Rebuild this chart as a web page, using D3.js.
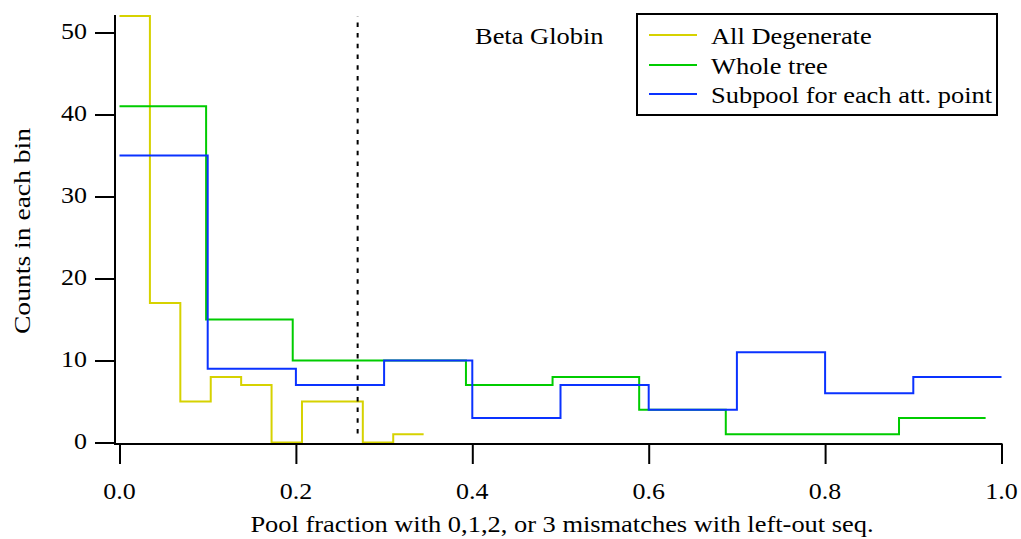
<!DOCTYPE html>
<html>
<head>
<meta charset="utf-8">
<script src="https://cdn.jsdelivr.net/npm/d3@7"></script>
<style>
  html, body { margin: 0; padding: 0; background: #fff; }
  svg { display: block; }
  text { font-family: "Liberation Serif", "Times New Roman", serif; fill: #000; }
</style>
</head>
<body>
<svg id="chart" width="1021" height="539"></svg>
<script>
// Histogram series: bin counts, each series with its own bin width starting at 0
const seriesNames = ["All Degenerate", "Whole tree", "Subpool for each att. point"];
const seriesColors = ["#d6d200", "#00cc00", "#0a32ff"];
const allDegenerate = [52, 17, 5, 8, 7, 0, 5, 5, 0, 1];
const wholeTree = [41, 15, 10, 10, 7, 8, 4, 1, 1, 3];
const subpool = [35, 9, 7, 10, 3, 7, 4, 11, 6, 8];
const binWidths = [1 / 29, 0.0982, 0.1];

const xTicks = [0, 0.2, 0.4, 0.6, 0.8, 1.0];
const yTicks = [0, 10, 20, 30, 40, 50];
const xDomain = [0, 1];
const yDomain = [0, 52];

// Vertical reference marker
const markerX = 0.27;
const markerYRange = [1.1, 52];

const title = "Beta Globin";
const xLabel = "Pool fraction with 0,1,2, or 3 mismatches with left-out seq.";
const yLabel = "Counts in each bin";

const svg = d3.select("#chart");
const FS = 23;       // font size
const SX = 1.13;     // horizontal text stretch

const x = d3.scaleLinear().domain(xDomain).range([119.5, 1001.5]);
const y = d3.scaleLinear().domain(yDomain).range([442.5, 16.1]);

const axisX = 115;   // position of the vertical axis line
const axisY = 444;   // position of the horizontal axis line

// helper: text with horizontal stretch
function stretchedText(g, tx, ty, str, anchor, rotate, sx) {
  return g.append("text")
    .attr("transform", `translate(${tx},${ty})` + (rotate ? ` rotate(${rotate})` : "") + ` scale(${sx || SX},1)`)
    .attr("font-size", FS)
    .attr("text-anchor", anchor || "start")
    .attr("dominant-baseline", "central")
    .text(str);
}

// Step curves
const series = [allDegenerate, wholeTree, subpool];
const stepLine = d3.line()
  .x(d => x(d[0]))
  .y(d => y(d[1]))
  .curve(d3.curveStepAfter);

series.forEach((vals, si) => {
  const w = binWidths[si];
  const pts = vals.map((v, i) => [i * w, v]);
  pts.push([vals.length * w, vals[vals.length - 1]]);
  svg.append("path")
    .attr("d", stepLine(pts))
    .attr("fill", "none")
    .attr("stroke", seriesColors[si])
    .attr("stroke-width", 2);
});

// Dashed marker
svg.append("line")
  .attr("x1", x(markerX)).attr("x2", x(markerX))
  .attr("y1", y(markerYRange[0])).attr("y2", y(markerYRange[1]))
  .attr("stroke", "#000")
  .attr("stroke-width", 2)
  .attr("stroke-dasharray", "4.5,6.2");

// Axis lines
svg.append("line")
  .attr("x1", axisX).attr("x2", axisX)
  .attr("y1", 15).attr("y2", axisY + 1)
  .attr("stroke", "#000").attr("stroke-width", 2);
svg.append("line")
  .attr("x1", axisX - 1).attr("x2", 1002.5)
  .attr("y1", axisY).attr("y2", axisY)
  .attr("stroke", "#000").attr("stroke-width", 2);

const yAxis = d3.axisLeft(y).tickValues(yTicks).tickSize(20).tickFormat(d3.format("d"));
const yG = svg.append("g").attr("transform", `translate(${axisX},0)`).call(yAxis);
yG.select(".domain").remove();
yG.selectAll(".tick line").attr("stroke", "#000").attr("stroke-width", 2);
yG.selectAll(".tick text").remove();
yTicks.forEach(v => stretchedText(svg, 87, y(v) - 1, String(v), "end"));

const xAxis = d3.axisBottom(x).tickValues(xTicks).tickSize(20).tickFormat(d3.format(".1f"));
const xG = svg.append("g").attr("transform", `translate(0,${axisY})`).call(xAxis);
xG.select(".domain").remove();
xG.selectAll(".tick line").attr("stroke", "#000").attr("stroke-width", 2);
xG.selectAll(".tick text").remove();
xTicks.forEach(v => stretchedText(svg, x(v), 491, d3.format(".1f")(v), "middle"));

// Axis titles
stretchedText(svg, 562, 524, xLabel, "middle", null, 1.15);
stretchedText(svg, 22, 231, yLabel, "middle", -90, 1.2);

// Title annotation
stretchedText(svg, 475, 36, title, "start", null, 1.15);

// Legend
const legend = svg.append("g");
legend.append("rect")
  .attr("x", 637).attr("y", 14).attr("width", 360).attr("height", 101)
  .attr("fill", "#fff").attr("stroke", "#000").attr("stroke-width", 2);
const legendRowsY = [35, 65, 94];
seriesNames.forEach((name, i) => {
  legend.append("line")
    .attr("x1", 649).attr("x2", 697)
    .attr("y1", legendRowsY[i]).attr("y2", legendRowsY[i])
    .attr("stroke", seriesColors[i]).attr("stroke-width", 2);
  stretchedText(legend, 711, legendRowsY[i] + 1.5, name, "start", null, 1.15);
});
</script>
</body>
</html>
